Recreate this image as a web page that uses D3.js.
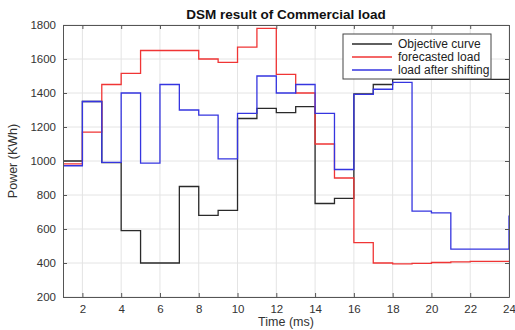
<!DOCTYPE html>
<html>
<head>
<meta charset="utf-8">
<script src="https://cdn.jsdelivr.net/npm/d3@7"></script>
<style>
  body { margin: 0; background: #fff; }
  svg { font-family: Arial, 'Liberation Sans', Helvetica, sans-serif; }
</style>
</head>
<body>
<svg id="chart" width="515" height="330"></svg>
<script>
// hours of the day (stairs, value holds until next hour)
const hours = d3.range(1, 25);
const objective = [1000, 1350, 990, 590, 400, 400, 850, 680, 710, 1250, 1310, 1285,
  1320, 750, 780, 1395, 1450, 1480, 1480, 1480, 1480, 1480, 1480, 1480];
const forecasted = [983, 1170, 1450, 1515, 1650, 1650, 1650, 1600, 1580, 1670, 1780, 1510,
  1400, 1100, 900, 520, 400, 395, 398, 403, 407, 409, 410, 410];
const shifted = [972, 1350, 992, 1400, 988, 1450, 1300, 1270, 1012, 1280, 1500, 1400,
  1450, 1280, 950, 1392, 1422, 1462, 705, 695, 482, 482, 482, 680];
const seriesNames = ['Objective curve', 'forecasted load', 'load after shifting'];
const seriesColors = ['#2a2a2a', '#f03535', '#3535e0'];
const xTicks = d3.range(2, 25, 2);
const yTicks = d3.range(200, 1801, 200);

const svg = d3.select('#chart');
const margin = { top: 25, right: 6, bottom: 33, left: 63 };
const width = +svg.attr('width');
const height = +svg.attr('height');
const x = d3.scaleLinear().domain([1, 24]).range([margin.left, width - margin.right]);
const y = d3.scaleLinear().domain([200, 1800]).range([height - margin.bottom, margin.top]);

// grid
svg.append('g').selectAll('line').data(xTicks).enter().append('line')
  .attr('x1', d => x(d)).attr('x2', d => x(d))
  .attr('y1', y(200)).attr('y2', y(1800))
  .attr('stroke', '#e4e4e4').attr('stroke-width', 1);
svg.append('g').selectAll('line').data(yTicks).enter().append('line')
  .attr('x1', x(1)).attr('x2', x(24))
  .attr('y1', d => y(d)).attr('y2', d => y(d))
  .attr('stroke', '#e4e4e4').attr('stroke-width', 1);

// stairs
const stairs = d3.line()
  .x(function (d) { return x(d[0]); })
  .y(function (d) { return y(d[1]); })
  .curve(d3.curveStepAfter);
[objective, forecasted, shifted].forEach(function (vals, i) {
  svg.append('path')
    .attr('d', stairs(hours.map((h, k) => [h, vals[k]])))
    .attr('fill', 'none')
    .attr('stroke', seriesColors[i])
    .attr('stroke-width', 1.3);
});

// axes (inward ticks, box on)
const axisColor = '#555';
svg.append('g').attr('transform', 'translate(0,' + y(200) + ')')
  .call(d3.axisBottom(x).tickValues(xTicks).tickSizeInner(-4).tickSizeOuter(0).tickPadding(8)
    .tickFormat(d3.format('d')));
svg.append('g').attr('transform', 'translate(' + x(1) + ',0)')
  .call(d3.axisLeft(y).tickValues(yTicks).tickSizeInner(-4).tickSizeOuter(0).tickPadding(7)
    .tickFormat(d3.format('d')));
svg.append('g').attr('transform', 'translate(0,' + y(1800) + ')')
  .call(d3.axisTop(x).tickValues(xTicks).tickSizeInner(-4).tickSizeOuter(0).tickFormat(''));
svg.append('g').attr('transform', 'translate(' + x(24) + ',0)')
  .call(d3.axisRight(y).tickValues(yTicks).tickSizeInner(-4).tickSizeOuter(0).tickFormat(''));
svg.selectAll('.domain').attr('stroke', axisColor);
svg.selectAll('.tick line').attr('stroke', axisColor);
svg.selectAll('.tick text').attr('fill', '#333').style('font-size', '11.5px')
  .style('font-family', 'Arial, Liberation Sans, sans-serif');

// title and labels
svg.append('text')
  .attr('x', (x(1) + x(24)) / 2).attr('y', 19)
  .attr('text-anchor', 'middle')
  .style('font-size', '13.5px').style('font-weight', 'bold').attr('fill', '#111')
  .text('DSM result of Commercial load');
svg.append('text')
  .attr('x', (x(1) + x(24)) / 2).attr('y', 326)
  .attr('text-anchor', 'middle')
  .style('font-size', '12.5px').attr('fill', '#333')
  .text('Time (ms)');
svg.append('text')
  .attr('transform', 'translate(17,' + (y(1000)) + ') rotate(-90)')
  .attr('text-anchor', 'middle')
  .style('font-size', '12.5px').attr('fill', '#333')
  .text('Power (KWh)');

// legend
const legend = svg.append('g').attr('transform', 'translate(343,34)');
legend.append('rect')
  .attr('width', 148).attr('height', 45)
  .attr('fill', '#fff').attr('stroke', '#444').attr('stroke-width', 1);
seriesNames.forEach(function (name, i) {
  const ly = 10 + i * 13;
  legend.append('line')
    .attr('x1', 9).attr('x2', 49).attr('y1', ly).attr('y2', ly)
    .attr('stroke', seriesColors[i]).attr('stroke-width', 1.3);
  legend.append('text')
    .attr('x', 55).attr('y', ly + 4)
    .style('font-size', '12px').attr('fill', '#222')
    .text(name);
});
</script>
</body>
</html>
